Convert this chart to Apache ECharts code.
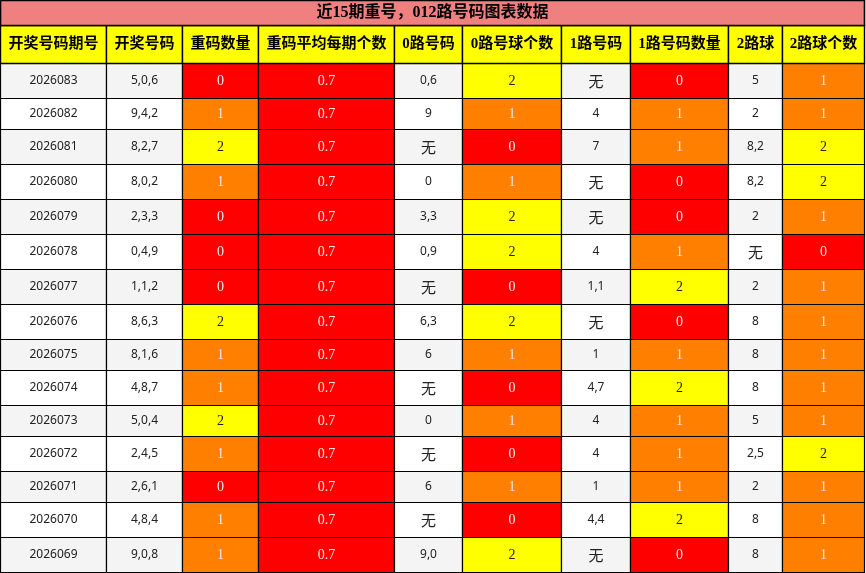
<!DOCTYPE html>
<html>
<head>
<meta charset="utf-8">
<title>近15期重号，012路号码图表数据</title>
<script src="https://cdn.jsdelivr.net/npm/echarts@6/dist/echarts.min.js"></script>
<style>
html, body { margin: 0; padding: 0; background: #fff; }
#main { width: 866px; height: 573px; }
</style>
</head>
<body>
<div id="main"></div>
<script>
// 表格数据
var title = '近15期重号，012路号码图表数据';
var headers = ['开奖号码期号', '开奖号码', '重码数量', '重码平均每期个数', '0路号码', '0路号球个数', '1路号码', '1路号码数量', '2路球', '2路球个数'];
var periods = ['2026083', '2026082', '2026081', '2026080', '2026079', '2026078', '2026077', '2026076', '2026075', '2026074', '2026073', '2026072', '2026071', '2026070', '2026069'];
var draws = ['5,0,6', '9,4,2', '8,2,7', '8,0,2', '2,3,3', '0,4,9', '1,1,2', '8,6,3', '8,1,6', '4,8,7', '5,0,4', '2,4,5', '2,6,1', '4,8,4', '9,0,8'];
var repeatCount = [0, 1, 2, 1, 0, 0, 0, 2, 1, 1, 2, 1, 0, 1, 1];
var repeatAvg = ['0.7', '0.7', '0.7', '0.7', '0.7', '0.7', '0.7', '0.7', '0.7', '0.7', '0.7', '0.7', '0.7', '0.7', '0.7'];
var road0 = ['0,6', '9', '无', '0', '3,3', '0,9', '无', '6,3', '6', '无', '0', '无', '6', '无', '9,0'];
var road0Count = [2, 1, 0, 1, 2, 2, 0, 2, 1, 0, 1, 0, 1, 0, 2];
var road1 = ['无', '4', '7', '无', '无', '4', '1,1', '无', '1', '4,7', '4', '4', '1', '4,4', '无'];
var road1Count = [0, 1, 1, 0, 0, 1, 2, 0, 1, 2, 1, 1, 1, 2, 0];
var road2 = ['5', '2', '8,2', '8,2', '2', '无', '2', '8', '8', '8', '5', '2,5', '2', '8', '8'];
var road2Count = [1, 1, 2, 2, 1, 0, 1, 1, 1, 1, 1, 2, 1, 1, 1];

var columns = [periods, draws, repeatCount, repeatAvg, road0, road0Count, road1, road1Count, road2, road2Count];
// 单元格类型: plain 普通, count 按个数着色, avg 平均值
var colKind = ['plain', 'plain', 'count', 'avg', 'plain', 'count', 'plain', 'count', 'plain', 'count'];
var countColors = ['#FF0000', '#FF8000', '#FFFF00'];

// 版式
var colEdges = [0.5, 106.5, 182.5, 258.5, 394.5, 462.5, 561.5, 630.5, 728.5, 782.5, 864.5];
var rowEdges = [0.5, 25.5, 63.5];
for (var i = 0; i < periods.length; i++) {
    var tall = false;
    for (var c = 0; c < columns.length; c++) {
        if (String(columns[c][i]) === '无') tall = true;
    }
    rowEdges.push(rowEdges[rowEdges.length - 1] + (tall ? 35 : 31));
}

var serifFont = '"Liberation Serif", "Noto Sans CJK SC", serif';
var sansFont = '"Noto Sans", "Noto Sans CJK SC", sans-serif';

var tableChart = echarts.init(document.getElementById('main'));

function cellBox(api, c0, c1, r) {
    var p0 = api.coord([colEdges[c0], rowEdges[r]]);
    var p1 = api.coord([colEdges[c1], rowEdges[r + 1]]);
    return { x: p0[0], y: p0[1], width: p1[0] - p0[0], height: p1[1] - p0[1] };
}

function cellShape(box, fill, text, font, color, dy, lw) {
    return {
        type: 'group',
        children: [{
            type: 'rect',
            shape: box,
            style: { fill: fill, stroke: '#000', lineWidth: lw || 1.2 }
        }, {
            type: 'text',
            z2: 10,
            style: {
                text: text,
                x: box.x + box.width / 2,
                y: box.y + box.height / 2 + (dy || 0),
                align: 'center',
                verticalAlign: 'middle',
                font: font,
                fill: color
            }
        }]
    };
}

function renderTitle(params, api) {
    var box = cellBox(api, 0, colEdges.length - 1, 0);
    return cellShape(box, '#F08080', title, 'bold 16px ' + serifFont, '#000', 0, 1.6);
}

function renderHeader(params, api) {
    var c = api.value(0);
    var box = cellBox(api, c, c + 1, 1);
    return cellShape(box, '#FFFF00', headers[c], 'bold 15px ' + serifFont, '#000', 0, 1.4);
}

function renderBody(params, api) {
    var c = api.value(0), i = api.value(1);
    var box = cellBox(api, c, c + 1, i + 2);
    var v = columns[c][i];
    var kind = colKind[c];
    var fill = i % 2 === 0 ? '#F4F4F4' : '#FFFFFF';
    var color = '#222';
    var font = '12px ' + sansFont;
    var dy = 0;
    if (kind === 'count') {
        fill = countColors[v];
        color = v === 2 ? '#222' : '#FFE6E6';
        font = '14px ' + serifFont;
    } else if (kind === 'avg') {
        fill = countColors[0];
        color = '#FFE6E6';
        font = '14px ' + serifFont;
    } else if (v === '无') {
        font = '15px ' + sansFont;
        dy = 2;
    }
    return cellShape(box, fill, String(v), font, color, dy);
}

var headerData = [];
var bodyData = [];
for (var c = 0; c < columns.length; c++) {
    headerData.push([c, 0]);
    for (var i = 0; i < periods.length; i++) {
        bodyData.push([c, i]);
    }
}

var option = {
    animation: false,
    grid: { left: 0, right: 0, top: 0, bottom: 0 },
    xAxis: { type: 'value', min: 0, max: 866, show: false },
    yAxis: { type: 'value', min: 0, max: 573, inverse: true, show: false },
    series: [{
        type: 'custom',
        clip: false,
        renderItem: renderBody,
        data: bodyData
    }, {
        type: 'custom',
        clip: false,
        renderItem: renderHeader,
        data: headerData
    }, {
        type: 'custom',
        clip: false,
        renderItem: renderTitle,
        data: [[0, 0]]
    }]
};
tableChart.setOption(option);

window.addEventListener('resize', function () {
    tableChart.resize();
});
</script>
</body>
</html>
